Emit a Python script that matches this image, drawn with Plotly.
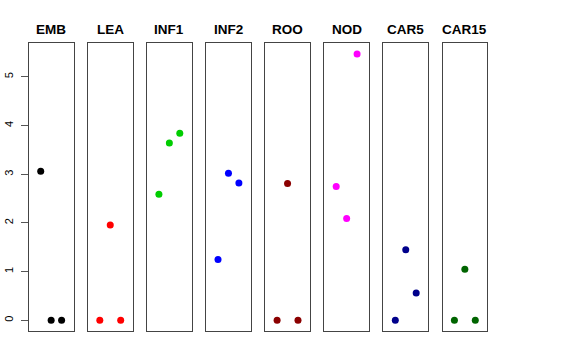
import plotly.graph_objects as go

W, H = 576, 360
categories = ["EMB", "LEA", "INF1", "INF2", "ROO", "NOD", "CAR5", "CAR15"]
colors = ["#000000", "#FF0000", "#00CD00", "#0000FF", "#8B0000", "#FF00FF", "#00008B", "#006400"]
positions = [1, 2, 3]
values = {
    "EMB": [3.06, 0.0, 0.0],
    "LEA": [0.0, 1.96, 0.0],
    "INF1": [2.59, 3.64, 3.84],
    "INF2": [1.25, 3.02, 2.82],
    "ROO": [0.0, 2.81, 0.0],
    "NOD": [2.75, 2.09, 5.47],
    "CAR5": [0.0, 1.45, 0.56],
    "CAR15": [0.0, 1.05, 0.0],
}
y_ticks = [0, 1, 2, 3, 4, 5]

fig = go.Figure()
left0, pitch, pw = 28.8, 59.1, 44.7
top_px, bot_px = 43.3, 331.0
ydom = [1 - bot_px / H, 1 - top_px / H]
ymax = max(max(v) for v in values.values())
pad = ymax * 0.04
yr = [-pad, ymax + pad]

for i, cat in enumerate(categories):
    n = i + 1
    xa = "x" if n == 1 else f"x{n}"
    ya = "y" if n == 1 else f"y{n}"
    fig.add_trace(go.Scatter(
        x=positions, y=values[cat], mode="markers",
        marker=dict(color=colors[i], size=7, line=dict(width=0)),
        xaxis=xa, yaxis=ya, showlegend=False, hoverinfo="skip"))
    l = left0 + i * pitch
    dom = [l / W, (l + pw) / W]
    fig.layout[f"xaxis{'' if n == 1 else n}"] = dict(
        domain=dom, range=[-0.14, 4.14], showgrid=False, zeroline=False,
        showticklabels=False, ticks="", showline=True, mirror=True,
        linecolor="#444444", linewidth=1, anchor=ya, fixedrange=True)
    yd = dict(domain=ydom, range=yr, showgrid=False, zeroline=False,
              showline=True, mirror=True, linecolor="#444444", linewidth=1,
              anchor=xa, fixedrange=True)
    if n == 1:
        yd.update(tickvals=y_ticks, ticktext=[str(t) for t in y_ticks],
                  ticks="outside", ticklen=7, tickcolor="#555555", tickangle=-90,
                  tickfont=dict(family="Liberation Sans, Arial", size=11, color="#000000"),
                  showticklabels=True, automargin=False, ticklabelstandoff=3)
    else:
        yd.update(showticklabels=False, ticks="")
    fig.layout[f"yaxis{'' if n == 1 else n}"] = yd
    fig.add_annotation(text=f"<b>{cat}</b>", x=(l + pw / 2) / W, y=1 - 29 / H,
                       xref="paper", yref="paper", showarrow=False,
                       xanchor="center", yanchor="middle",
                       font=dict(family="Liberation Sans, Arial", size=13.5, color="#000000"))

fig.update_layout(width=W, height=H, margin=dict(l=0, r=0, t=0, b=0),
                  paper_bgcolor="white", plot_bgcolor="white")
fig.write_html("out.html", config={"displayModeBar": False},
               post_script="document.body.style.margin='0';document.body.style.overflow='hidden';")
